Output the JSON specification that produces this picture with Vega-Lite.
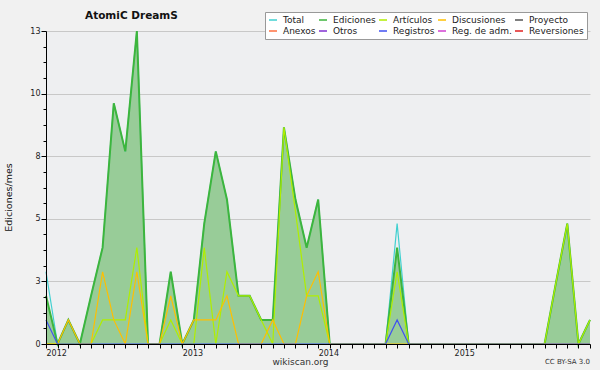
{
  "$schema": "https://vega.github.io/schema/vega-lite/v6.json",
  "width": 544,
  "height": 313,
  "autosize": {"type": "none"},
  "padding": {"left": 46, "top": 31, "right": 10, "bottom": 26},
  "background": "#f1f1f1",
  "title": {"text": "AtomiC DreamS", "anchor": "start", "frame": "group", "dx": 39, "dy": 20, "offset": 10, "font": "DejaVu Sans", "fontSize": 10.5, "fontWeight": "bold", "color": "#111111"},
  "config": {"view": {"fill": "#eeeff1", "stroke": null}, "font": "DejaVu Sans"},
  "data": {"values": [
    {"d": "2012-01-01", "Total": 3, "Ediciones": 2, "Artículos": 0, "Discusiones": 0, "Registros": 1},
    {"d": "2012-02-01", "Total": 0, "Ediciones": 0, "Artículos": 0, "Discusiones": 0, "Registros": 0},
    {"d": "2012-03-01", "Total": 1, "Ediciones": 1, "Artículos": 0, "Discusiones": 1, "Registros": 0},
    {"d": "2012-04-01", "Total": 0, "Ediciones": 0, "Artículos": 0, "Discusiones": 0, "Registros": 0},
    {"d": "2012-05-01", "Total": 2, "Ediciones": 2, "Artículos": 0, "Discusiones": 0, "Registros": 0},
    {"d": "2012-06-01", "Total": 4, "Ediciones": 4, "Artículos": 1, "Discusiones": 3, "Registros": 0},
    {"d": "2012-07-01", "Total": 10, "Ediciones": 10, "Artículos": 1, "Discusiones": 1, "Registros": 0},
    {"d": "2012-08-01", "Total": 8, "Ediciones": 8, "Artículos": 1, "Discusiones": 0, "Registros": 0},
    {"d": "2012-09-01", "Total": 13, "Ediciones": 13, "Artículos": 4, "Discusiones": 3, "Registros": 0},
    {"d": "2012-10-01", "Total": 0, "Ediciones": 0, "Artículos": 0, "Discusiones": 0, "Registros": 0},
    {"d": "2012-11-01", "Total": 0, "Ediciones": 0, "Artículos": 0, "Discusiones": 0, "Registros": 0},
    {"d": "2012-12-01", "Total": 3, "Ediciones": 3, "Artículos": 1, "Discusiones": 2, "Registros": 0},
    {"d": "2013-01-01", "Total": 0, "Ediciones": 0, "Artículos": 0, "Discusiones": 0, "Registros": 0},
    {"d": "2013-02-01", "Total": 1, "Ediciones": 1, "Artículos": 0, "Discusiones": 1, "Registros": 0},
    {"d": "2013-03-01", "Total": 5, "Ediciones": 5, "Artículos": 4, "Discusiones": 1, "Registros": 0},
    {"d": "2013-04-01", "Total": 8, "Ediciones": 8, "Artículos": 0, "Discusiones": 1, "Registros": 0},
    {"d": "2013-05-01", "Total": 6, "Ediciones": 6, "Artículos": 3, "Discusiones": 2, "Registros": 0},
    {"d": "2013-06-01", "Total": 2, "Ediciones": 2, "Artículos": 2, "Discusiones": 0, "Registros": 0},
    {"d": "2013-07-01", "Total": 2, "Ediciones": 2, "Artículos": 2, "Discusiones": 0, "Registros": 0},
    {"d": "2013-08-01", "Total": 1, "Ediciones": 1, "Artículos": 1, "Discusiones": 0, "Registros": 0},
    {"d": "2013-09-01", "Total": 1, "Ediciones": 1, "Artículos": 0, "Discusiones": 1, "Registros": 0},
    {"d": "2013-10-01", "Total": 9, "Ediciones": 9, "Artículos": 9, "Discusiones": 0, "Registros": 0},
    {"d": "2013-11-01", "Total": 6, "Ediciones": 6, "Artículos": 5.5, "Discusiones": 0, "Registros": 0},
    {"d": "2013-12-01", "Total": 4, "Ediciones": 4, "Artículos": 2, "Discusiones": 2, "Registros": 0},
    {"d": "2014-01-01", "Total": 6, "Ediciones": 6, "Artículos": 2, "Discusiones": 3, "Registros": 0},
    {"d": "2014-02-01", "Total": 0, "Ediciones": 0, "Artículos": 0, "Discusiones": 0, "Registros": 0},
    {"d": "2014-03-01", "Total": 0, "Ediciones": 0, "Artículos": 0, "Discusiones": 0, "Registros": 0},
    {"d": "2014-04-01", "Total": 0, "Ediciones": 0, "Artículos": 0, "Discusiones": 0, "Registros": 0},
    {"d": "2014-05-01", "Total": 0, "Ediciones": 0, "Artículos": 0, "Discusiones": 0, "Registros": 0},
    {"d": "2014-06-01", "Total": 0, "Ediciones": 0, "Artículos": 0, "Discusiones": 0, "Registros": 0},
    {"d": "2014-07-01", "Total": 0, "Ediciones": 0, "Artículos": 0, "Discusiones": 0, "Registros": 0},
    {"d": "2014-08-01", "Total": 5, "Ediciones": 4, "Artículos": 3, "Discusiones": 0, "Registros": 1},
    {"d": "2014-09-01", "Total": 0, "Ediciones": 0, "Artículos": 0, "Discusiones": 0, "Registros": 0},
    {"d": "2014-10-01", "Total": 0, "Ediciones": 0, "Artículos": 0, "Discusiones": 0, "Registros": 0},
    {"d": "2014-11-01", "Total": 0, "Ediciones": 0, "Artículos": 0, "Discusiones": 0, "Registros": 0},
    {"d": "2014-12-01", "Total": 0, "Ediciones": 0, "Artículos": 0, "Discusiones": 0, "Registros": 0},
    {"d": "2015-01-01", "Total": 0, "Ediciones": 0, "Artículos": 0, "Discusiones": 0, "Registros": 0},
    {"d": "2015-02-01", "Total": 0, "Ediciones": 0, "Artículos": 0, "Discusiones": 0, "Registros": 0},
    {"d": "2015-03-01", "Total": 0, "Ediciones": 0, "Artículos": 0, "Discusiones": 0, "Registros": 0},
    {"d": "2015-04-01", "Total": 0, "Ediciones": 0, "Artículos": 0, "Discusiones": 0, "Registros": 0},
    {"d": "2015-05-01", "Total": 0, "Ediciones": 0, "Artículos": 0, "Discusiones": 0, "Registros": 0},
    {"d": "2015-06-01", "Total": 0, "Ediciones": 0, "Artículos": 0, "Discusiones": 0, "Registros": 0},
    {"d": "2015-07-01", "Total": 0, "Ediciones": 0, "Artículos": 0, "Discusiones": 0, "Registros": 0},
    {"d": "2015-08-01", "Total": 0, "Ediciones": 0, "Artículos": 0, "Discusiones": 0, "Registros": 0},
    {"d": "2015-09-01", "Total": 0, "Ediciones": 0, "Artículos": 0, "Discusiones": 0, "Registros": 0},
    {"d": "2015-10-01", "Total": 2.5, "Ediciones": 2.5, "Artículos": 2.5, "Discusiones": 0, "Registros": 0},
    {"d": "2015-11-01", "Total": 5, "Ediciones": 5, "Artículos": 5, "Discusiones": 0, "Registros": 0},
    {"d": "2015-12-01", "Total": 0, "Ediciones": 0, "Artículos": 0, "Discusiones": 0, "Registros": 0},
    {"d": "2016-01-01", "Total": 1, "Ediciones": 1, "Artículos": 1, "Discusiones": 0, "Registros": 0}
  ]},
  "layer": [
    {
      "mark": {"type": "area", "fill": "#98cc98", "opacity": 1, "interpolate": "linear"},
      "encoding": {
        "x": {"field": "d", "type": "temporal",
          "scale": {"type": "utc", "nice": false, "domain": [{"year": 2012, "month": 1, "date": 1, "utc": true}, {"year": 2016, "month": 1, "date": 1, "utc": true}]},
          "axis": {"orient": "bottom", "tickCount": {"interval": "month", "step": 1}, "labelExpr": "utcmonth(datum.value) === 0 && utcyear(datum.value) < 2016 ? utcFormat(datum.value, '%Y') : ''", "labelAlign": "left", "labelFontSize": 8, "labelColor": "#222222", "labelPadding": 1, "labelOverlap": false, "labelFlush": false, "tickSize": 4, "tickColor": "#000000", "domainColor": "#000000", "grid": false, "title": "wikiscan.org", "titleFontSize": 9, "titleFontWeight": "normal", "titleColor": "#333333", "titleX": 254, "titleY": 13, "titleBaseline": "top", "zindex": 1}},
        "y": {"field": "Ediciones", "type": "quantitative",
          "scale": {"domain": [0, 13], "nice": false},
          "axis": {"orient": "left", "grid": true, "gridColor": "#c8c8c8", "values": [0, 2.6, 5.2, 7.8, 10.4, 13], "domain": false, "ticks": false, "labels": false, "title": null, "zindex": 0}}
      }
    },
    {
      "transform": [{"fold": ["Total", "Ediciones", "Artículos", "Discusiones", "Registros"], "as": ["serie", "v"]}],
      "mark": {"type": "line", "interpolate": "linear"},
      "encoding": {
        "x": {"field": "d", "type": "temporal",
          "scale": {"type": "utc", "nice": false, "domain": [{"year": 2012, "month": 1, "date": 1, "utc": true}, {"year": 2016, "month": 1, "date": 1, "utc": true}]},
          "axis": {"orient": "bottom", "tickCount": {"interval": "month", "step": 1}, "labelExpr": "utcmonth(datum.value) === 0 && utcyear(datum.value) < 2016 ? utcFormat(datum.value, '%Y') : ''", "labelAlign": "left", "labelFontSize": 8, "labelColor": "#222222", "labelPadding": 1, "labelOverlap": false, "labelFlush": false, "tickSize": 4, "tickColor": "#000000", "domainColor": "#000000", "grid": false, "title": "wikiscan.org", "titleFontSize": 9, "titleFontWeight": "normal", "titleColor": "#333333", "titleX": 254, "titleY": 13, "titleBaseline": "top", "zindex": 1}},
        "y": {"field": "v", "type": "quantitative",
          "scale": {"domain": [0, 13], "nice": false},
          "axis": {"orient": "left", "values": [0, 0.65, 1.3, 1.95, 2.6, 3.25, 3.9, 4.55, 5.2, 5.85, 6.5, 7.15, 7.8, 8.45, 9.1, 9.75, 10.4, 11.05, 11.7, 12.35, 13],
            "labelExpr": "abs(datum.value / 2.6 - round(datum.value / 2.6)) < 0.01 ? format(datum.value, '.0f') : ''",
            "tickSize": {"condition": {"test": "abs(datum.value / 2.6 - round(datum.value / 2.6)) < 0.01", "value": 5}, "value": 3},
            "grid": false, "domainColor": "#000000", "tickColor": "#000000", "labelFontSize": 8, "labelColor": "#222222", "labelPadding": 1, "labelOverlap": false, "labelFlush": false,
            "title": "Ediciones/mes", "titleFontSize": 9.5, "titleFontWeight": "normal", "titleColor": "#111111", "titleX": -33, "titleY": 166, "zindex": 1}},
        "color": {"field": "serie", "type": "nominal",
          "scale": {"domain": ["Total", "Ediciones", "Artículos", "Discusiones", "Proyecto", "Anexos", "Otros", "Registros", "Reg. de adm.", "Reversiones"],
                    "range": ["#40d0d0", "#3db53d", "#b0ee00", "#ffbf00", "#555555", "#ff7040", "#8030d0", "#4050f0", "#d040d0", "#e02020"]},
          "legend": {"orient": "none", "legendX": 219, "legendY": -19, "direction": "horizontal", "columns": 5, "gridAlign": "each", "symbolType": "stroke", "symbolSize": 64, "symbolStrokeWidth": 1.5, "labelFontSize": 9, "labelColor": "#222222", "labelOffset": 5, "columnPadding": 0, "rowPadding": 1, "padding": 3, "strokeColor": "#999999", "fillColor": "#ffffff", "title": null, "labelLimit": 0}},
        "strokeWidth": {"condition": {"test": "datum.serie === 'Ediciones'", "value": 2}, "value": 1.2}
      }
    },
    {
      "data": {"values": [{"t": "CC BY-SA 3.0"}]},
      "mark": {"type": "text", "align": "right", "baseline": "top", "dy": 14, "fontSize": 7, "color": "#333333"},
      "encoding": {
        "x": {"datum": {"year": 2016, "month": 1, "date": 1, "utc": true}, "type": "temporal",
          "scale": {"type": "utc", "nice": false, "domain": [{"year": 2012, "month": 1, "date": 1, "utc": true}, {"year": 2016, "month": 1, "date": 1, "utc": true}]},
          "axis": {"orient": "bottom", "tickCount": {"interval": "month", "step": 1}, "labelExpr": "utcmonth(datum.value) === 0 && utcyear(datum.value) < 2016 ? utcFormat(datum.value, '%Y') : ''", "labelAlign": "left", "labelFontSize": 8, "labelColor": "#222222", "labelPadding": 1, "labelOverlap": false, "labelFlush": false, "tickSize": 4, "tickColor": "#000000", "domainColor": "#000000", "grid": false, "title": "wikiscan.org", "titleFontSize": 9, "titleFontWeight": "normal", "titleColor": "#333333", "titleX": 254, "titleY": 13, "titleBaseline": "top", "zindex": 1}},
        "y": {"datum": 0, "type": "quantitative", "scale": {"domain": [0, 13], "nice": false}, "axis": null},
        "text": {"field": "t"}
      }
    }
  ],
  "resolve": {"axis": {"y": "independent"}}
}
